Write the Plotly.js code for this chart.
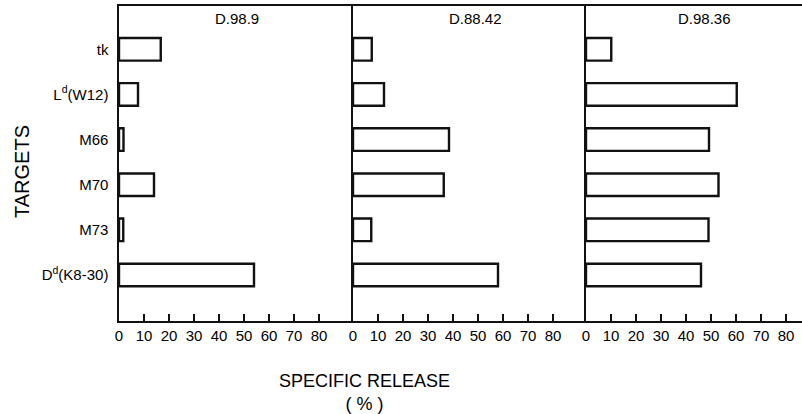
<!DOCTYPE html>
<html>
<head>
<meta charset="utf-8">
<script src="https://cdn.plot.ly/plotly-3.0.1.min.js"></script>
<style>html,body{margin:0;padding:0;background:#fff;}#chart{width:802px;height:414px;}</style>
</head>
<body>
<div id="chart"></div>
<script>
// Data (bottom to top)
const targets = ["D<sup>d</sup>(K8-30)", "M73", "M70", "M66", "L<sup>d</sup>(W12)", "tk"];
const d98_9  = [54, 1.7, 14, 1.8, 7.6, 16.7];
const d88_42 = [58, 7.3, 36.3, 38.4, 12.4, 7.5];
const d98_36 = [46, 49, 53, 49.2, 60.3, 10.1];
const panelTitles = ["D.98.9", "D.88.42", "D.98.36"];
const tickVals = [0, 10, 20, 30, 40, 50, 60, 70, 80];

const series = [d98_9, d88_42, d98_36];
const W = 683;
const domains = [[0, 234/W], [234/W, 467/W], [467/W, 1]];
const ranges = [[0, 93.6], [0, 93.2], [0, 86.4]];
const fontMain = "Liberation Sans, Arial, sans-serif";
const fontNarrow = "Liberation Sans Narrow, Arial Narrow, Liberation Sans, sans-serif";

const traces = series.map((vals, i) => ({
  type: 'bar', orientation: 'h',
  x: vals, y: targets,
  xaxis: i === 0 ? 'x' : 'x' + (i + 1),
  yaxis: i === 0 ? 'y' : 'y' + (i + 1),
  width: 0.5,
  marker: {color: '#fff', line: {color: '#111', width: 2.4}},
  hoverinfo: 'none'
}));

const layout = {
  width: 802, height: 414,
  margin: {l: 119, r: 0, t: 6, b: 93},
  paper_bgcolor: '#fff', plot_bgcolor: '#fff',
  showlegend: false,
  font: {family: fontMain, color: '#111', size: 14},
  annotations: [],
  shapes: []
};

for (let i = 0; i < 3; i++) {
  const xs = i === 0 ? '' : String(i + 1);
  layout['xaxis' + xs] = {
    domain: domains[i], range: ranges[i],
    anchor: 'y' + xs,
    tickvals: tickVals, ticktext: tickVals.map(String),
    ticks: 'inside', ticklen: 7, tickwidth: 1.2, tickcolor: '#111',
    showgrid: false, zeroline: false,
    showline: true, linecolor: '#111', linewidth: 2, mirror: true,
    tickfont: {family: fontNarrow, size: 15, color: '#000'},
    fixedrange: true
  };
  layout['yaxis' + xs] = {
    type: 'category',
    categoryorder: 'array', categoryarray: targets,
    range: [-1.02, 5.96],
    anchor: 'x' + xs,
    showticklabels: i === 0,
    ticks: '',
    ticklabelstandoff: 6,
    showgrid: false, zeroline: false,
    showline: true, linecolor: '#111', linewidth: 1.6,
    tickfont: {family: fontMain, size: 15, color: '#000'},
    fixedrange: true
  };
}

const titleX = [(237 - 119) / W, (475 - 119) / W, (704 - 119) / W];
panelTitles.forEach((t, i) => {
  layout.annotations.push({
    text: t, xref: 'paper', yref: 'paper',
    x: titleX[i], y: (321 - 19) / 315, showarrow: false,
    xanchor: 'center', yanchor: 'middle',
    font: {family: fontMain, size: 15, color: '#000'}
  });
});

layout.annotations.push({
  text: 'SPECIFIC RELEASE<br>( % )', xref: 'paper', yref: 'paper',
  x: (364 - 119) / W, y: (321 - 392) / 315, showarrow: false,
  xanchor: 'center', yanchor: 'middle',
  font: {family: fontNarrow, size: 18, color: '#000'}
});
layout.annotations.push({
  text: 'TARGETS', xref: 'paper', yref: 'paper',
  x: (22 - 119) / W, y: (321 - 172) / 315, showarrow: false,
  textangle: -90, xanchor: 'center', yanchor: 'middle',
  font: {family: fontNarrow, size: 20, color: '#000'}
});

Plotly.newPlot('chart', traces, layout, {staticPlot: true, displayModeBar: false});
</script>
</body>
</html>
